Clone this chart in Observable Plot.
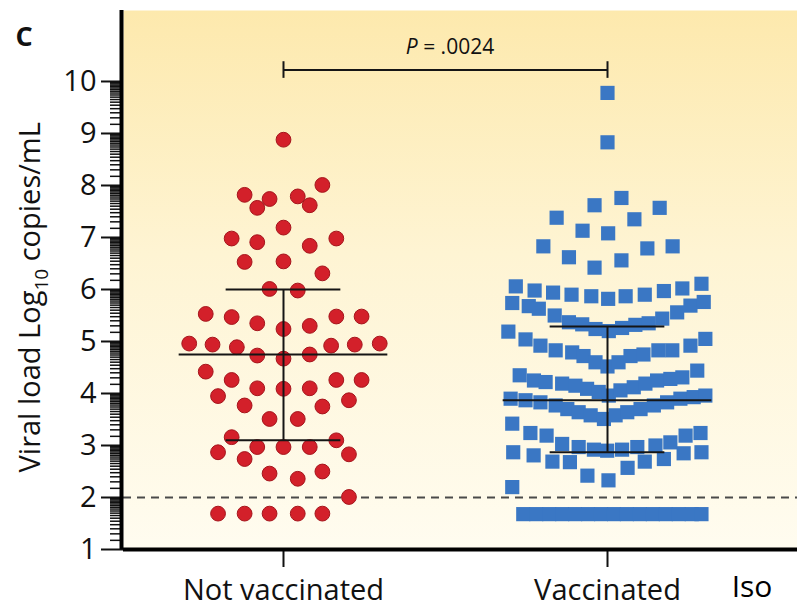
<!DOCTYPE html>
<html>
<head>
<meta charset="utf-8">
<script src="https://cdn.jsdelivr.net/npm/d3@7"></script>
<script src="https://cdn.jsdelivr.net/npm/@observablehq/plot@0.6"></script>
<style>
  html, body { margin: 0; padding: 0; background: #ffffff; }
  #chart svg { display: block; }
</style>
</head>
<body>
<div id="chart"></div>
<script>
// ---------- data ----------
const groups = ["Not vaccinated", "Vaccinated"];
const groupPos = [0, 1];

// Not vaccinated: viral load (log10 copies/mL) and horizontal jitter (group units)
const notVacValues = [
  8.88, 7.82, 7.74, 7.57, 7.79, 7.62, 8.01, 7.19, 6.98, 6.91, 6.84, 6.98, 6.53, 6.54, 6.31, 6.01, 5.98,
  5.53, 5.47, 5.35, 5.24, 5.30, 5.48, 5.48,
  4.96, 4.94, 4.89, 4.73, 4.67, 4.75, 4.92, 4.94, 4.96,
  4.42, 4.26, 4.10, 4.09, 4.10, 4.26, 4.26,
  3.95, 3.77, 3.75, 3.87, 3.51, 3.51,
  3.16, 3.10, 2.97, 2.97, 2.97, 2.87, 2.74, 2.83,
  2.46, 2.36, 2.50, 2.01,
  1.69, 1.69, 1.69, 1.69, 1.69
];
const notVacJitter = [
  0.000, -0.120, -0.043, -0.081, 0.044, 0.081, 0.120, 0.000, -0.160, -0.081, 0.081, 0.163, -0.120, 0.000, 0.120, -0.043, 0.044,
  -0.240, -0.160, -0.081, 0.000, 0.081, 0.163, 0.241,
  -0.291, -0.219, -0.144, -0.081, 0.000, 0.081, 0.147, 0.220, 0.297,
  -0.240, -0.160, -0.081, 0.000, 0.081, 0.163, 0.241,
  -0.202, -0.120, 0.120, 0.202, -0.043, 0.044,
  -0.160, 0.163, -0.081, 0.000, 0.081, -0.202, -0.120, 0.202,
  -0.043, 0.044, 0.120, 0.202,
  -0.202, -0.120, -0.043, 0.044, 0.120
];

// Vaccinated
const vacValues = [
  9.78, 8.83, 7.76, 7.62, 7.57, 7.38, 7.35, 7.13, 7.08, 6.83, 6.79, 6.83, 6.62, 6.56, 6.42,
  6.06, 5.98, 5.94, 5.90, 5.87, 5.82, 5.87, 5.90, 5.97, 6.02, 6.11,
  5.74, 5.68, 5.63, 5.50, 5.37, 5.33, 5.24, 5.20, 5.26, 5.32, 5.35, 5.44, 5.56, 5.69, 5.76,
  5.19, 5.04, 4.92, 4.83, 4.79, 4.72, 4.60, 4.52, 4.60, 4.72, 4.75, 4.83, 4.83, 4.92, 5.05,
  4.35, 4.25, 4.22, 4.19, 4.15, 4.09, 4.03, 3.96, 4.06, 4.12, 4.19, 4.25, 4.28, 4.31, 4.44,
  3.90, 3.87, 3.83, 3.77, 3.70, 3.64, 3.58, 3.51, 3.58, 3.64, 3.70, 3.77, 3.83, 3.90, 3.93, 3.96,
  3.42, 3.24, 3.19, 3.03, 2.97, 2.92, 2.90, 2.92, 2.97, 3.00, 3.06, 3.19, 3.24,
  2.87, 2.81, 2.69, 2.68, 2.42, 2.33, 2.57, 2.69, 2.74, 2.85, 2.87,
  2.20,
  1.68, 1.68, 1.68, 1.68, 1.68, 1.68, 1.68, 1.68, 1.68, 1.68, 1.68, 1.68, 1.68, 1.68, 1.68
];
const vacJitter = [
  0.000, 0.000, 0.043, -0.040, 0.161, -0.157, 0.083, -0.077, 0.002, -0.198, 0.123, 0.201, -0.119, 0.043, -0.040,
  -0.283, -0.225, -0.168, -0.111, -0.050, 0.002, 0.056, 0.115, 0.174, 0.231, 0.290,
  -0.294, -0.243, -0.212, -0.163, -0.119, -0.078, -0.037, 0.004, 0.045, 0.086, 0.127, 0.169, 0.215, 0.256, 0.297,
  -0.306, -0.253, -0.207, -0.160, -0.109, -0.074, -0.037, 0.000, 0.034, 0.071, 0.111, 0.157, 0.200, 0.256, 0.302,
  -0.271, -0.227, -0.191, -0.140, -0.099, -0.063, -0.027, 0.004, 0.040, 0.081, 0.117, 0.153, 0.194, 0.231, 0.277,
  -0.299, -0.253, -0.207, -0.160, -0.124, -0.089, -0.052, -0.011, 0.025, 0.061, 0.102, 0.143, 0.184, 0.225, 0.266, 0.302,
  -0.294, -0.238, -0.188, -0.140, -0.089, -0.042, -0.001, 0.045, 0.092, 0.148, 0.194, 0.241, 0.287,
  -0.291, -0.228, -0.170, -0.116, -0.062, 0.003, 0.062, 0.115, 0.174, 0.235, 0.290,
  -0.294,
  -0.26, -0.22, -0.18, -0.14, -0.10, -0.06, -0.02, 0.02, 0.06, 0.10, 0.14, 0.18, 0.22, 0.26, 0.29
];

// mean and +/- SD per group
const means = [4.75, 3.87];
const sdUpper = [6.00, 5.29];
const sdLower = [3.10, 2.87];

const yTicks = [1, 2, 3, 4, 5, 6, 7, 8, 9, 10];
const minorSteps = [1.5, 2, 2.5, 3, 3.5, 4, 4.5, 5, 5.5, 6, 6.5, 7, 7.5, 8, 8.5, 9, 9.5];
const detectionLimit = 2;
const pText = ".0024";
const bracketY = 10.22;

// ---------- build tables ----------
const redData = notVacValues.map((v, i) => ({value: v, xp: groupPos[0] + notVacJitter[i]}));
const blueData = vacValues.map((v, i) => ({value: v, xp: groupPos[1] + vacJitter[i]}));
const stats = groups.map((g, i) => ({group: g, pos: groupPos[i], mean: means[i], hi: sdUpper[i], lo: sdLower[i]}));
const minorTicks = [];
for (let n = 1; n < 10; n++) for (const k of minorSteps) minorTicks.push(n + Math.log10(k));

const meanHalf = 0.322, capHalf = 0.177;
const xDomain = [-0.4938, 1.5864];
const yDomain = [1, 11.365];

const chart = Plot.plot({
  width: 797,
  height: 607,
  marginLeft: 123,
  marginRight: 0,
  marginTop: 10,
  marginBottom: 58,
  style: {fontFamily: "'Open Sans', sans-serif", background: "#ffffff", color: "#111"},
  x: {type: "linear", domain: xDomain, axis: null},
  y: {type: "linear", domain: yDomain, axis: null},
  marks: [
    Plot.frame({fill: "url(#bgGrad)", stroke: "none"}),
    Plot.ruleY([detectionLimit], {stroke: "#4a4a4a", strokeWidth: 2, strokeDasharray: "8,6"}),
    Plot.dot(redData, {x: "xp", y: "value", r: 7.4, fill: "#d3202a", stroke: "#a5151c", strokeWidth: 1}),
    Plot.dot(blueData, {x: "xp", y: "value", r: 8, symbol: "square", fill: "#3a77c4"}),
    // mean line
    Plot.ruleY(stats, {y: "mean", x1: d => d.pos - meanHalf, x2: d => d.pos + meanHalf, stroke: "#151515", strokeWidth: 2}),
    // SD whisker
    Plot.ruleX(stats, {x: "pos", y1: "lo", y2: "hi", stroke: "#151515", strokeWidth: 2}),
    Plot.ruleY(stats, {y: "hi", x1: d => d.pos - capHalf, x2: d => d.pos + capHalf, stroke: "#151515", strokeWidth: 2}),
    Plot.ruleY(stats, {y: "lo", x1: d => d.pos - capHalf, x2: d => d.pos + capHalf, stroke: "#151515", strokeWidth: 2}),
    // significance bracket
    Plot.ruleY([bracketY], {x1: groupPos[0], x2: groupPos[1], stroke: "#151515", strokeWidth: 2}),
    Plot.ruleX(groupPos, {y1: bracketY - 0.16, y2: bracketY + 0.16, stroke: "#151515", strokeWidth: 2}),
    // axes
    Plot.axisY({ticks: minorTicks, tickSize: 13, tickFormat: () => "", strokeWidth: 1.5, label: null}),
    Plot.axisY({ticks: yTicks, tickSize: 22, tickPadding: 5, fontSize: 29, strokeWidth: 2, label: null}),
    Plot.axisX({ticks: groupPos, tickFormat: i => groups[i], tickSize: 18, tickPadding: 12, fontSize: 29, strokeWidth: 2, label: null}),
    Plot.ruleX([xDomain[0]], {stroke: "#000", strokeWidth: 4, dx: -2}),
    Plot.ruleY([yDomain[0]], {stroke: "#000", strokeWidth: 4}),
    // panel letter
    Plot.text(["C"], {frameAnchor: "top-left", text: d => d, dx: -108, dy: 16, textAnchor: "start", fontSize: 27, fontWeight: "bold", fill: "#111"})
  ]
});

const svg = d3.select(chart);
const defs = svg.insert("defs", ":first-child");
const grad = defs.append("linearGradient").attr("id", "bgGrad").attr("x1", 0).attr("y1", 0).attr("x2", 0).attr("y2", 1);
grad.append("stop").attr("offset", "0%").attr("stop-color", "#fde9ad");
grad.append("stop").attr("offset", "45%").attr("stop-color", "#fef4d3");
grad.append("stop").attr("offset", "100%").attr("stop-color", "#fffcf0");

const xs = chart.scale("x"), ys = chart.scale("y");

// y axis title with subscript
const yl = svg.append("text")
  .attr("transform", `translate(40, ${ys.apply(5.84)}) rotate(-90)`)
  .attr("text-anchor", "middle")
  .attr("font-family", "'Open Sans', sans-serif")
  .attr("font-size", 29)
  .attr("fill", "#111");
yl.append("tspan").text("Viral load Log");
yl.append("tspan").attr("font-size", 19).attr("dy", 8).text("10");
yl.append("tspan").attr("dy", -8).text(" copies/mL");

// P value label
const pt = svg.append("text")
  .attr("x", (xs.apply(groupPos[0]) + xs.apply(groupPos[1])) / 2 + 5)
  .attr("y", ys.apply(bracketY) - 16)
  .attr("text-anchor", "middle")
  .attr("font-family", "'Open Sans', sans-serif")
  .attr("font-size", 21)
  .attr("fill", "#111");
pt.append("tspan").attr("font-style", "italic").text("P");
pt.append("tspan").text(" = " + pText);

// neighbouring panel's label (cut off in the source figure)
svg.append("text")
  .attr("x", 752).attr("y", 597)
  .attr("font-family", "'Open Sans', sans-serif")
  .attr("font-size", 30)
  .attr("fill", "#000")
  .text("Iso");

document.getElementById("chart").appendChild(chart);
</script>
</body>
</html>
